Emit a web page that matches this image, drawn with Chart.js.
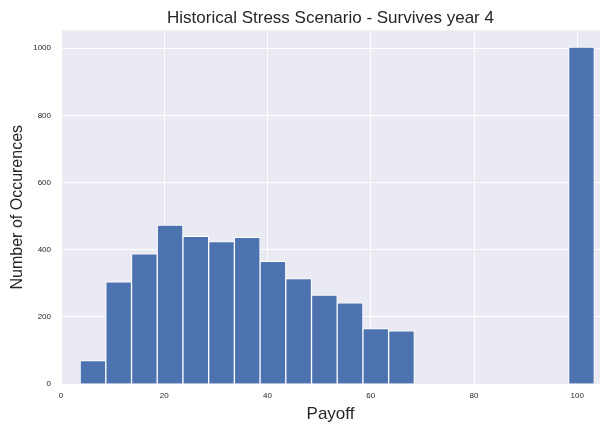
<!DOCTYPE html>
<html>
<head>
<meta charset="utf-8">
<script src="https://cdn.jsdelivr.net/npm/chart.js@4.4.1/dist/chart.umd.min.js"></script>
<style>
  html, body { margin: 0; padding: 0; background: #fff; }
  #wrap { width: 600px; height: 425px; position: relative; }
</style>
</head>
<body>
<div id="wrap"><canvas id="grafico"></canvas></div>
<script>
// histogram bins (centres) and counts per bin
const binCenters = [6.19, 11.17, 16.15, 21.13, 26.11, 31.09, 36.07, 41.05, 46.03, 51.01,
                    55.99, 60.97, 65.95, 70.93, 75.91, 80.89, 85.87, 90.85, 95.83, 100.81];
const counts = [70, 304, 388, 473, 440, 424, 437, 365, 314, 265,
                242, 165, 158, 0, 0, 0, 0, 0, 0, 1003];

const xTicks = [0, 20, 40, 60, 80, 100];
const yTicks = [0, 200, 400, 600, 800, 1000];

const fondo = {
  id: 'fondo',
  beforeDraw(chart) {
    const { ctx, chartArea: a } = chart;
    ctx.save();
    ctx.fillStyle = '#EAEAF2';
    ctx.fillRect(a.left, a.top, a.right - a.left, a.bottom - a.top);
    ctx.restore();
  }
};

const puntos = binCenters.map((x, i) => ({ x, y: counts[i] }));

new Chart(document.getElementById('grafico'), {
  type: 'bar',
  data: {
    datasets: [{
      data: puntos,
      backgroundColor: '#4C72B0',
      borderColor: '#ffffff',
      borderWidth: 1,
      barPercentage: 1,
      categoryPercentage: 1
    }]
  },
  options: {
    responsive: true,
    maintainAspectRatio: false,
    animation: false,
    layout: { padding: { left: 0, right: 0, top: 0, bottom: 0 } },
    plugins: {
      legend: { display: false },
      tooltip: { enabled: false },
      title: {
        display: true,
        fullSize: false,
        text: 'Historical Stress Scenario - Survives year 4',
        color: '#262626',
        font: { family: 'Liberation Sans, Arial, sans-serif', size: 17, weight: 'normal' },
        padding: { top: 8, bottom: 2 }
      }
    },
    scales: {
      x: {
        type: 'linear',
        min: 0,
        max: 104.4,
        offset: false,
        afterBuildTicks: s => { s.ticks = xTicks.map(v => ({ value: v })); },
        afterFit: s => { s.height = 41; },
        grid: { color: '#ffffff', lineWidth: 1, drawTicks: false, offset: false },
        border: { display: false },
        ticks: {
          padding: 7,
          color: '#262626',
          font: { family: 'Liberation Sans, Arial, sans-serif', size: 8 },
          maxRotation: 0,
          callback: v => String(v)
        },
        title: {
          display: true,
          text: 'Payoff',
          color: '#262626',
          font: { family: 'Liberation Sans, Arial, sans-serif', size: 17 },
          padding: { top: 0, bottom: 0 }
        }
      },
      y: {
        min: 0,
        max: 1053,
        afterBuildTicks: s => { s.ticks = yTicks.map(v => ({ value: v })); },
        afterFit: s => { s.width = 61; },
        grid: { color: '#ffffff', lineWidth: 1, drawTicks: false },
        border: { display: false },
        ticks: {
          padding: 10,
          color: '#262626',
          font: { family: 'Liberation Sans, Arial, sans-serif', size: 8 },
          callback: v => String(v)
        },
        title: {
          display: true,
          text: 'Number of Occurences',
          color: '#262626',
          font: { family: 'Liberation Sans, Arial, sans-serif', size: 16 },
          padding: { top: 8, bottom: 2 }
        }
      }
    }
  },
  plugins: [fondo]
});
</script>
</body>
</html>
